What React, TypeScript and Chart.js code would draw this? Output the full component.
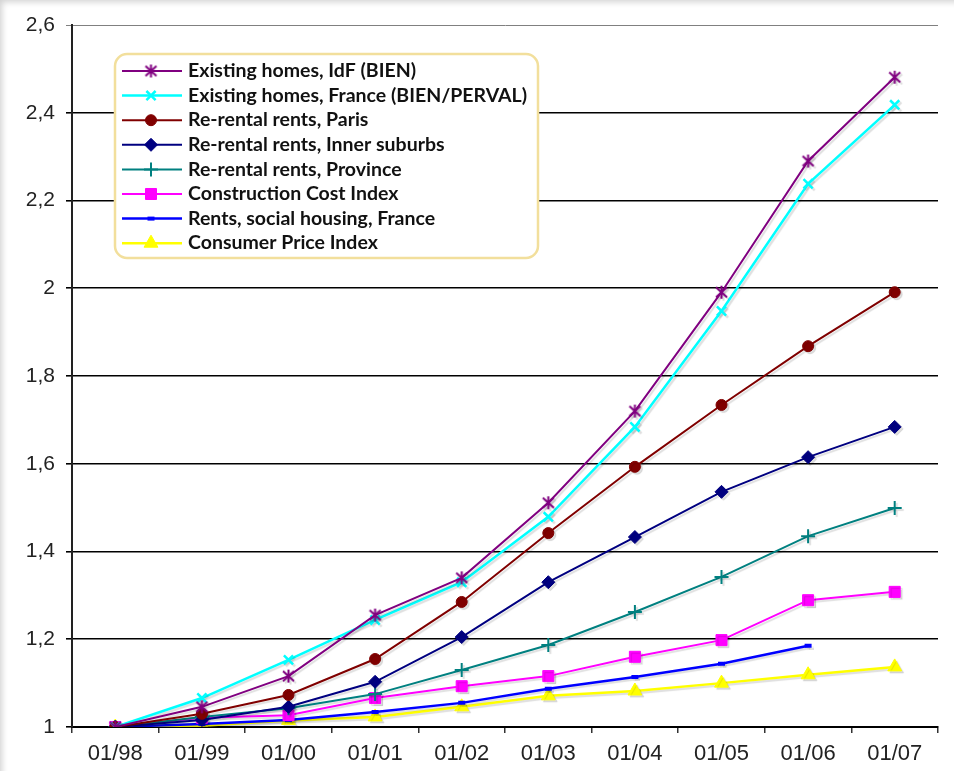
import React, { useEffect, useRef } from "react";
import { Chart, registerables } from "chart.js";
import { drawPoint } from "chart.js/helpers";

Chart.register(...registerables);

const categories = ["01/98", "01/99", "01/00", "01/01", "01/02", "01/03", "01/04", "01/05", "01/06", "01/07"];

const idfHomes = [1.0, 1.046, 1.116, 1.255, 1.34, 1.511, 1.72, 1.991, 2.29, 2.481];
const franceHomes = [1.0, 1.066, 1.153, 1.244, 1.33, 1.479, 1.684, 1.948, 2.238, 2.418];
const rentsParis = [1.0, 1.03, 1.073, 1.155, 1.285, 1.442, 1.593, 1.734, 1.868, 1.991];
const rentsInner = [1.0, 1.016, 1.046, 1.103, 1.205, 1.33, 1.433, 1.536, 1.615, 1.684];
const rentsProvince = [1.0, 1.023, 1.043, 1.075, 1.13, 1.187, 1.262, 1.342, 1.435, 1.499];
const constructionCost = [1.0, 1.021, 1.027, 1.066, 1.093, 1.116, 1.16, 1.198, 1.289, 1.308];
const socialRents = [1.0, 1.007, 1.016, 1.034, 1.055, 1.087, 1.114, 1.144, 1.185, null];
const cpi = [1.0, 1.003, 1.015, 1.023, 1.046, 1.071, 1.082, 1.1, 1.119, 1.137];

const seriesNames = [
  "Existing homes, IdF (BIEN)",
  "Existing homes, France (BIEN/PERVAL)",
  "Re-rental rents, Paris",
  "Re-rental rents, Inner suburbs",
  "Re-rental rents, Province",
  "Construction Cost Index",
  "Rents, social housing, France",
  "Consumer Price Index",
];

const yMin = 1;
const yMax = 2.6;
const yStep = 0.2;

const formatTick = (v: number) => {
  const s = (Math.round(v * 10) / 10).toFixed(1).replace(/\.0$/, "");
  return s.replace(".", ",");
};

// Excel-style asterisk marker (x with a vertical bar)
function makeAsterisk(color: string): HTMLCanvasElement {
  const c = document.createElement("canvas");
  c.width = 15;
  c.height = 15;
  const g = c.getContext("2d")!;
  g.strokeStyle = color;
  g.lineWidth = 2;
  g.lineCap = "butt";
  g.beginPath();
  g.moveTo(7.5, 1);
  g.lineTo(7.5, 14);
  g.moveTo(2, 2.5);
  g.lineTo(13, 12.5);
  g.moveTo(13, 2.5);
  g.lineTo(2, 12.5);
  g.stroke();
  return c;
}

const legendPlugin = {
  id: "boxLegend",
  afterDatasetsDraw(chart: any) {
    const ctx = chart.ctx;
    ctx.save();
    ctx.shadowColor = "transparent";
    const bx = 115, by = 54, bw = 423, bh = 204;
    ctx.beginPath();
    (ctx as any).roundRect(bx, by, bw, bh, 12);
    ctx.fillStyle = "#ffffff";
    ctx.fill();
    ctx.lineWidth = 2.5;
    ctx.strokeStyle = "#f2df9c";
    ctx.stroke();

    chart.data.datasets.forEach((ds: any, i: number) => {
      const y = 71 + i * 24.6;
      ctx.beginPath();
      ctx.strokeStyle = ds.borderColor;
      ctx.lineWidth = ds.borderWidth;
      ctx.moveTo(122, y);
      ctx.lineTo(182, y);
      ctx.stroke();
      ctx.fillStyle = ds.pointBackgroundColor;
      ctx.strokeStyle = ds.pointBorderColor;
      ctx.lineWidth = ds.pointBorderWidth;
      drawPoint(ctx, {
        pointStyle: ds.pointStyle,
        rotation: 0,
        radius: ds.pointRadius,
        borderWidth: ds.pointBorderWidth,
      } as any, 151, y);
      ctx.fillStyle = "#111";
      ctx.font = "bold 19.5px Lato";
      ctx.textAlign = "left";
      ctx.textBaseline = "middle";
      ctx.fillText(ds.label, 188, y);
    });
    ctx.restore();
  },
};

const shadowPlugin = {
  id: "lineShadow",
  beforeDatasetsDraw(chart: any) {
    const ctx = chart.ctx;
    ctx.save();
    ctx.shadowColor = "rgba(0,0,0,0.13)";
    ctx.shadowOffsetX = 2;
    ctx.shadowOffsetY = 2;
    ctx.shadowBlur = 1;
  },
  afterDatasetsDraw(chart: any) {
    chart.ctx.restore();
  },
};

export default function App() {
  const ref = useRef<HTMLCanvasElement | null>(null);

  useEffect(() => {
    if (!ref.current) return;
    const mk = (i: number, data: (number | null)[], color: string, width: number, style: any, radius: number, pbw: number) => ({
      label: seriesNames[i],
      data,
      borderColor: color,
      backgroundColor: color,
      borderWidth: width,
      pointStyle: style,
      pointRadius: radius,
      pointHoverRadius: radius,
      pointBackgroundColor: color,
      pointBorderColor: color,
      pointBorderWidth: pbw,
      tension: 0,
      spanGaps: false,
    });
    const asterisk = makeAsterisk("#800080");
    const chart = new Chart(ref.current, {
      type: "line",
      data: {
        labels: categories,
        datasets: [
          mk(0, idfHomes, "#800080", 2, asterisk, 7, 2),
          mk(1, franceHomes, "#00ffff", 2.5, "crossRot", 6.5, 2.5),
          mk(2, rentsParis, "#800000", 2, "circle", 5.5, 1),
          mk(3, rentsInner, "#000080", 2, "rectRot", 6.5, 1),
          mk(4, rentsProvince, "#008080", 2, "cross", 7, 2),
          mk(5, constructionCost, "#ff00ff", 2, "rect", 7.8, 1),
          mk(6, socialRents, "#0000ff", 2.5, "line", 3.5, 4),
          mk(7, cpi, "#ffff00", 2.5, "triangle", 8, 1),
        ] as any,
      },
      options: {
        responsive: false,
        animation: false,
        events: [],
        layout: { padding: { top: 25, right: 16, bottom: 0, left: 0 } },
        plugins: {
          legend: { display: false },
          tooltip: { enabled: false },
        },
        scales: {
          x: {
            type: "category",
            offset: true,
            grid: {
              offset: true,
              drawOnChartArea: false,
              drawTicks: true,
              tickLength: 6,
              color: "#333",
              lineWidth: 1.5,
            },
            border: { display: true, color: "#000", width: 2 },
            ticks: {
              color: "#222",
              font: { family: "'Liberation Sans', Arial, sans-serif", size: 22 },
              padding: 8,
              maxRotation: 0,
              autoSkip: false,
            },
            afterFit(scale: any) {
              scale.height = 44;
            },
          },
          y: {
            type: "linear",
            min: yMin,
            max: yMax,
            grid: {
              color: (c: any) => (c.tick && c.tick.value >= yMax - 0.01 ? "#808080" : "#000"),
              lineWidth: (c: any) => (c.tick && c.tick.value >= yMax - 0.01 ? 1 : 1.6),
              drawTicks: true,
              tickLength: 6,
            },
            border: { display: true, color: "#222", width: 2 },
            ticks: {
              stepSize: yStep,
              color: "#222",
              font: { family: "'Liberation Sans', Arial, sans-serif", size: 21 },
              padding: 11,
              callback: (v: any) => formatTick(Number(v)),
            },
            afterFit(scale: any) {
              scale.width = 72;
            },
          },
        },
      },
      plugins: [shadowPlugin, legendPlugin],
    });
    return () => chart.destroy();
  }, []);

  return (
    <div style={{ position: "absolute", left: 0, top: 0, width: 954, height: 771, background: "#fff", overflow: "hidden" }}>
      <canvas ref={ref} width={954} height={771} style={{ display: "block", width: 954, height: 771 }} />
      <div
        style={{
          position: "absolute",
          left: 0,
          top: 0,
          width: 954,
          height: 771,
          pointerEvents: "none",
          boxShadow: "inset 5px 5px 6px -3px rgba(0,0,0,0.18)",
        }}
      />
    </div>
  );
}
